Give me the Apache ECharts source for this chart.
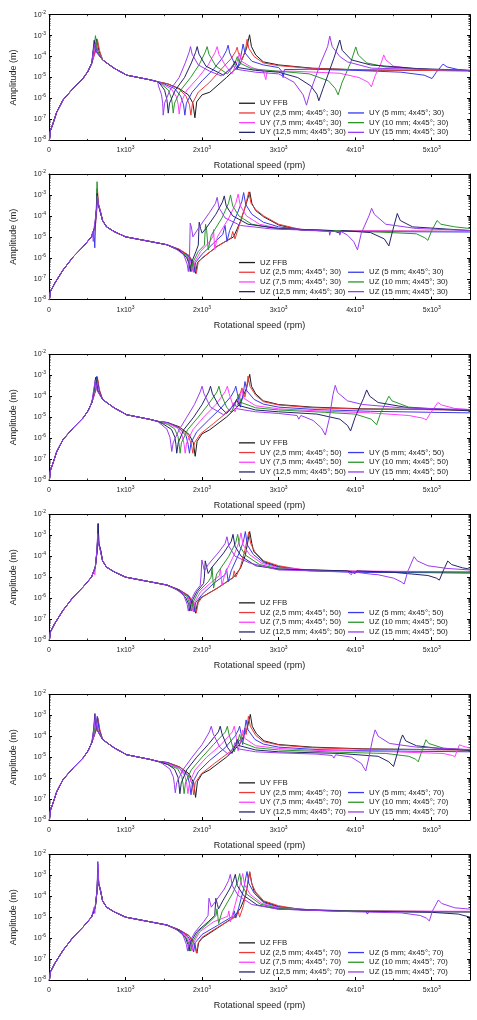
<!DOCTYPE html>
<html>
<head>
<meta charset="utf-8">
<script src="https://cdn.jsdelivr.net/npm/echarts/dist/echarts.min.js"></script>
<style>
  html, body { margin: 0; padding: 0; background: #fff; }
  #chart { width: 477px; height: 1020px; }
</style>
</head>
<body>
<div id="chart"></div>
<script>
// 系列名称与颜色
const sizes = ['FFB', '2,5 mm', '5 mm', '7,5 mm', '10 mm', '12,5 mm', '15 mm'];
const colors = ['#1c1c1c', '#ec3a3a', '#3a3aec', '#ff42ff', '#2a962a', '#24246c', '#9a3cf0'];
const panelDirs = ['UY', 'UZ', 'UY', 'UZ', 'UY', 'UZ'];
const panelAngles = [30, 30, 50, 50, 70, 70];
const speedRange = [0, 5500];
const ampRange = [1e-8, 1e-2];

// 低速段公共部分 (rpm, m)
const uyRise = [[5,1e-8],[20,3e-8],[50,6e-8],[100,2.2e-7],[183,8.5e-7],[314,3e-6],[444,9e-6],[510,2e-5],[560,5e-5]];
const uyFall = [[700,7e-5],[754,5e-5],[850,2.8e-5],[1015,1.3e-5],[1320,7.8e-6],[1420,6.3e-6]];
const uzRise = [[5,1e-8],[20,2.5e-8],[74,6e-8],[183,2.6e-7],[315,1.1e-6],[446,3.4e-6],[555,1e-5]];
const uzFall = [[700,6e-5],[752,3e-5],[850,1.8e-5],[1000,1e-5],[1320,6e-6],[1540,4.2e-6]];

// 每条曲线: [第一共振峰, 后段]
const uy30 = [
  [[[600,1.8e-4],[625,7e-4],[650,2e-4]],
   [[1550,5e-6],[1700,3e-6],[1820,1.5e-6],[1880,6e-7],[1906,1.2e-7],[1930,7e-7],[2000,1.5e-6],[2101,2e-6],[2318,1e-5],[2490,3.9e-5],[2580,2.4e-4],[2620,1.1e-3],[2645,3e-4],[2700,1.2e-4],[2800,5.6e-5],[3000,4e-5],[3440,2.8e-5],[4100,2.3e-5],[5500,2.1e-5]]],
  [[[610,1.8e-4],[635,6e-4],[660,2e-4]],
   [[1550,5e-6],[1700,2.8e-6],[1790,1.3e-6],[1835,5e-7],[1854,1.6e-7],[1875,6e-7],[1950,2e-6],[2100,6e-6],[2250,2.5e-5],[2380,8e-5],[2440,1.8e-4],[2458,2.8e-4],[2475,1.5e-4],[2520,7e-5],[2565,2e-4],[2588,6.7e-4],[2610,2.5e-4],[2680,1e-4],[2800,5e-5],[3000,3.7e-5],[3440,2.7e-5],[4100,2.3e-5],[5500,2.1e-5]]],
  [[[575,1.6e-4],[600,5e-4],[625,1.8e-4]],
   [[1500,5e-6],[1640,3e-6],[1720,1.3e-6],[1758,5e-7],[1775,1.6e-7],[1795,6e-7],[1870,2e-6],[2000,7e-6],[2150,2.5e-5],[2270,9e-5],[2320,2e-4],[2340,3.5e-4],[2360,1.5e-4],[2420,5e-5],[2460,2.5e-5],[2510,1.2e-4],[2536,4e-4],[2560,1.5e-4],[2650,6e-5],[2800,4e-5],[3000,3e-5],[3040,2e-5],[3059,1e-5],[3075,2.4e-5],[3400,2.5e-5],[4000,2.2e-5],[4600,1.8e-5],[4900,1.3e-5],[5004,9e-6],[5060,1.8e-5],[5148,4.4e-5],[5200,3.2e-5],[5350,2.4e-5],[5500,2.1e-5]]],
  [[[590,1.6e-4],[615,5e-4],[640,1.8e-4]],
   [[1500,4.5e-6],[1600,2.8e-6],[1665,1.2e-6],[1688,5e-7],[1701,1.8e-7],[1720,6e-7],[1800,2.5e-6],[1950,1e-5],[2080,4e-5],[2170,1.6e-4],[2197,3e-4],[2220,1.3e-4],[2300,4e-5],[2390,1.5e-5],[2460,6e-5],[2490,1.5e-4],[2515,6e-5],[2650,3e-5],[2800,2e-5],[2833,8e-6],[2850,2e-5],[3200,2e-5],[3800,1.6e-5],[4050,1e-5],[4170,6e-6],[4212,3.6e-6],[4260,1.2e-5],[4340,5e-5],[4373,1.2e-4],[4400,7e-5],[4500,3.5e-5],[4800,2.5e-5],[5500,2.1e-5]]],
  [[[582,1.8e-4],[607,1e-3],[632,2e-4]],
   [[1480,4.5e-6],[1560,2.5e-6],[1600,1e-6],[1612,5e-7],[1623,2e-7],[1640,6e-7],[1720,2.5e-6],[1850,1e-5],[1960,4e-5],[2040,1.6e-4],[2066,3e-4],[2090,1.3e-4],[2180,3.5e-5],[2330,1.5e-5],[2420,4e-5],[2460,1e-4],[2490,5e-5],[2650,2.6e-5],[3000,2e-5],[3400,1.5e-5],[3650,7e-6],[3740,3e-6],[3777,1.5e-6],[3830,6e-6],[3940,5e-5],[4008,2.9e-4],[4040,1.2e-4],[4150,5e-5],[4400,3.2e-5],[5000,2.4e-5],[5500,2.2e-5]]],
  [[[575,1.8e-4],[590,6e-4],[612,1.8e-4]],
   [[1450,5e-6],[1510,2.5e-6],[1540,9e-7],[1558,2e-7],[1575,6e-7],[1650,2.5e-6],[1770,1e-5],[1860,5e-5],[1915,1.6e-4],[1936,3e-4],[1960,1.3e-4],[2050,3.5e-5],[2280,1.3e-5],[2400,3.5e-5],[2430,6e-5],[2470,3e-5],[2700,2.2e-5],[3000,1.8e-5],[3250,1e-5],[3420,4e-6],[3500,1.6e-6],[3525,7.8e-7],[3580,3e-6],[3720,8e-5],[3799,6.2e-4],[3830,2e-4],[3950,7e-5],[4200,4e-5],[4800,2.7e-5],[5500,2.2e-5]]],
  [[[575,1.5e-4],[595,4e-4],[620,1.6e-4]],
   [[1430,4e-6],[1470,1.5e-6],[1485,6e-7],[1492,1.6e-7],[1510,6e-7],[1580,2.5e-6],[1700,1e-5],[1780,5e-5],[1830,1.6e-4],[1849,3e-4],[1870,1.3e-4],[1950,4e-5],[2100,2e-5],[2250,1.2e-5],[2370,2.5e-5],[2400,4e-5],[2440,2.5e-5],[2700,1.8e-5],[3000,1.5e-5],[3200,6e-6],[3320,1.5e-6],[3364,4.8e-7],[3410,2e-6],[3550,5e-5],[3640,3e-4],[3668,9.5e-4],[3700,3e-4],[3800,1e-4],[3900,5.6e-5],[4213,2.8e-5],[5500,2.2e-5]]]
];

const uz30 = [
  [[[600,3e-5],[620,2e-4],[630,2e-3],[640,4e-4],[664,2e-4]],
   [[1700,2.5e-6],[1820,1.3e-6],[1890,5e-7],[1915,1.8e-7],[1940,6e-7],[1975,8e-7],[2194,3.5e-6],[2412,1e-5],[2500,5.4e-5],[2565,2.8e-4],[2623,1.4e-3],[2650,4e-4],[2700,1.8e-4],[2805,9e-5],[3000,3.7e-5],[3286,2.1e-5],[3723,1.9e-5],[5500,1.8e-5]]],
  [[[605,3e-5],[625,2e-4],[635,1.5e-3],[645,4e-4],[668,2e-4]],
   [[1700,2.6e-6],[1830,1.3e-6],[1900,5e-7],[1925,1.8e-7],[1950,6e-7],[2000,1e-6],[2200,3.5e-6],[2380,9e-6],[2400,1.8e-5],[2430,8e-6],[2480,3e-5],[2560,2.5e-4],[2610,1.4e-3],[2640,4e-4],[2700,2e-4],[2805,1e-4],[3000,4e-5],[3300,2.2e-5],[3800,1.9e-5],[5500,1.8e-5]]],
  [[[585,2e-5],[598,3e-6],[608,4e-5],[618,2e-4],[625,1e-3],[635,4e-4],[660,2e-4]],
   [[1700,2.4e-6],[1820,1.2e-6],[1875,5e-7],[1895,2e-7],[1915,6e-7],[2000,1.5e-6],[2150,5e-6],[2270,1.3e-5],[2300,3.5e-5],[2325,6e-6],[2360,2e-5],[2460,1.3e-4],[2520,5e-4],[2543,1.3e-3],[2570,3.5e-4],[2650,1.2e-4],[2800,5e-5],[3000,3e-5],[3400,2e-5],[4000,1.8e-5],[5500,1.7e-5]]],
  [[[600,3e-5],[622,2e-4],[632,8e-4],[642,3.5e-4],[665,2e-4]],
   [[1700,2.3e-6],[1810,1.2e-6],[1860,5e-7],[1880,2.2e-7],[1900,6e-7],[1980,2e-6],[2100,6e-6],[2140,1e-5],[2150,2.2e-5],[2165,2.5e-6],[2200,1e-5],[2350,8e-5],[2440,4e-4],[2471,1.1e-3],[2500,3e-4],[2580,1e-4],[2750,4e-5],[3000,2.6e-5],[3600,2e-5],[5500,1.8e-5]]],
  [[[600,3e-5],[618,2e-4],[628,4.3e-3],[638,4e-4],[662,2e-4]],
   [[1700,2.2e-6],[1800,1.2e-6],[1842,5e-7],[1860,2.2e-7],[1880,6e-7],[1950,2e-6],[2030,4e-6],[2045,4e-5],[2060,2e-5],[2080,2.4e-6],[2120,1.2e-5],[2260,8e-5],[2345,4e-4],[2371,1e-3],[2400,3e-4],[2480,1e-4],[2650,4e-5],[3000,2.4e-5],[3700,2e-5],[4300,1.7e-5],[4800,1.4e-5],[4910,9e-6],[4950,6.8e-6],[5000,2e-5],[5070,6e-5],[5120,4e-5],[5300,3e-5],[5500,2.5e-5]]],
  [[[600,3e-5],[620,2e-4],[630,1.2e-3],[640,4e-4],[664,2e-4]],
   [[1700,2.3e-6],[1800,1e-6],[1830,5e-7],[1845,2.2e-7],[1862,6e-7],[1920,2e-6],[1950,4e-6],[1962,5e-5],[1980,2.5e-5],[2000,1.5e-5],[2050,2.5e-5],[2180,1.2e-4],[2265,4.5e-4],[2290,9e-4],[2315,3e-4],[2400,1e-4],[2600,4e-5],[3000,2.5e-5],[3700,2e-5],[3800,1.5e-5],[3820,2e-5],[4200,1.6e-5],[4380,8e-6],[4440,3.7e-6],[4490,2e-5],[4550,1.3e-4],[4590,6e-5],[4750,3e-5],[5500,2e-5]]],
  [[[570,1.8e-5],[578,6e-6],[590,3e-5],[622,2e-4],[633,9e-4],[643,4e-4],[666,2e-4]],
   [[1650,2.8e-6],[1760,1.4e-6],[1805,5e-7],[1820,2.2e-7],[1835,1e-6],[1845,4.5e-5],[1860,3e-5],[1880,1e-5],[1950,2.5e-5],[2100,1.5e-4],[2175,4e-4],[2197,7.7e-4],[2220,2.5e-4],[2300,8e-5],[2500,3.5e-5],[2900,2.4e-5],[3500,2e-5],[3660,1.8e-5],[3667,1.2e-5],[3680,1.8e-5],[3790,1.8e-5],[3800,1.2e-5],[3815,1.8e-5],[3900,1.2e-5],[3980,6e-6],[4030,2.4e-6],[4080,1.5e-5],[4180,1e-4],[4215,2.3e-4],[4250,1.2e-4],[4400,4e-5],[4800,2.5e-5],[5500,2e-5]]]
];

const uy50 = [
  [[[605,1.8e-4],[630,8e-4],[655,2e-4]],
   [[1550,5.5e-6],[1700,3.5e-6],[1830,1.5e-6],[1885,6e-7],[1910,1.35e-7],[1935,7e-7],[2000,1.6e-6],[2100,2.5e-6],[2318,1e-5],[2490,4e-5],[2580,2.4e-4],[2622,1.1e-3],[2645,3e-4],[2700,1.3e-4],[2800,6e-5],[3000,4e-5],[3440,3e-5],[4100,2.5e-5],[5500,2.2e-5]]],
  [[[610,1.8e-4],[635,7e-4],[660,2e-4]],
   [[1550,5.5e-6],[1720,3e-6],[1820,1.3e-6],[1860,5e-7],[1879,1.9e-7],[1900,6e-7],[1980,1.6e-6],[2150,5e-6],[2350,2e-5],[2460,7e-5],[2505,1.6e-4],[2520,2.5e-4],[2540,1.4e-4],[2560,9e-5],[2585,3e-4],[2600,9e-4],[2625,3e-4],[2700,1.1e-4],[2800,5.5e-5],[3000,3.8e-5],[3440,2.8e-5],[4100,2.4e-5],[5500,2.2e-5]]],
  [[[600,1.8e-4],[625,9e-4],[650,2e-4]],
   [[1550,5.5e-6],[1700,3e-6],[1790,1.3e-6],[1818,5e-7],[1835,1.9e-7],[1855,6e-7],[1930,2e-6],[2080,7e-6],[2250,2.8e-5],[2380,1e-4],[2425,2e-4],[2440,3e-4],[2460,1.4e-4],[2500,3e-5],[2540,1.5e-4],[2560,5e-4],[2585,1.8e-4],[2680,7e-5],[2800,4.2e-5],[3000,3e-5],[3500,2.3e-5],[4200,1.9e-5],[5000,1.7e-5],[5500,1.6e-5]]],
  [[[595,1.6e-4],[620,6e-4],[645,1.8e-4]],
   [[1550,5e-6],[1680,3e-6],[1740,1.3e-6],[1765,5e-7],[1779,1.9e-7],[1798,6e-7],[1880,2.5e-6],[2020,1e-5],[2180,4e-5],[2300,1.6e-4],[2330,3e-4],[2355,1.3e-4],[2430,1.8e-5],[2490,8e-5],[2520,2e-4],[2545,8e-5],[2700,3.5e-5],[3000,2.5e-5],[3500,2e-5],[4200,1.6e-5],[4700,1.2e-5],[4880,9e-6],[4930,7.5e-6],[4980,1.5e-5],[5080,5e-5],[5130,3.8e-5],[5300,2.6e-5],[5500,2.3e-5]]],
  [[[590,1.6e-4],[615,7e-4],[640,1.8e-4]],
   [[1550,4.5e-6],[1640,2.8e-6],[1685,1.2e-6],[1700,5e-7],[1713,1.9e-7],[1730,6e-7],[1810,2.5e-6],[1950,1e-5],[2080,4e-5],[2195,1.6e-4],[2220,3e-4],[2245,1.3e-4],[2320,3e-5],[2380,1.7e-5],[2450,6e-5],[2480,1.2e-4],[2510,5e-5],[2700,2.8e-5],[3000,2.2e-5],[3600,1.7e-5],[4000,1.4e-5],[4210,8e-6],[4280,4.3e-6],[4330,1.5e-5],[4410,6e-5],[4440,1e-4],[4480,6e-5],[4700,3e-5],[5200,2.3e-5],[5500,2.1e-5]]],
  [[[585,1.7e-4],[610,8e-4],[635,1.8e-4]],
   [[1500,4.5e-6],[1600,2.6e-6],[1645,1.1e-6],[1658,5e-7],[1669,1.9e-7],[1688,6e-7],[1760,2.5e-6],[1890,1e-5],[2000,4e-5],[2085,1.6e-4],[2110,3e-4],[2135,1.3e-4],[2220,3.5e-5],[2320,1.5e-5],[2420,4e-5],[2450,7e-5],[2490,3.5e-5],[2700,2.2e-5],[3000,1.8e-5],[3500,1.4e-5],[3800,8e-6],[3900,4e-6],[3940,2.2e-6],[4000,1e-5],[4110,8e-5],[4150,2e-4],[4190,1e-4],[4300,5e-5],[4700,2.8e-5],[5500,2e-5]]],
  [[[580,1.6e-4],[605,6e-4],[630,1.8e-4]],
   [[1450,5e-6],[1540,2.7e-6],[1580,1.1e-6],[1593,5e-7],[1604,2.3e-7],[1622,6e-7],[1700,2.5e-6],[1800,1e-5],[1900,4e-5],[1975,1.6e-4],[2000,3e-4],[2025,1.3e-4],[2110,3e-5],[2280,1.3e-5],[2390,3e-5],[2420,5e-5],[2460,2.5e-5],[2700,1.8e-5],[3000,1.5e-5],[3240,1.2e-5],[3264,8e-6],[3290,1.2e-5],[3450,7e-6],[3560,3e-6],[3610,1.4e-6],[3660,8e-6],[3710,1.2e-4],[3740,3.3e-4],[3770,1.5e-4],[3900,6e-5],[4100,4e-5],[4600,2.8e-5],[5500,2.3e-5]]]
];

const uz50 = [
  [[[605,3e-5],[628,2e-4],[640,1.2e-3],[650,4e-4],[672,2e-4]],
   [[1700,2.5e-6],[1820,1.3e-6],[1890,5e-7],[1915,1.9e-7],[1940,6e-7],[1975,1e-6],[2194,2.9e-6],[2412,1e-5],[2500,2.6e-5],[2565,1.1e-4],[2622,1.5e-3],[2650,4e-4],[2674,1.7e-4],[2805,5.5e-5],[3000,3.2e-5],[3286,2.2e-5],[4000,1.8e-5],[5500,1.6e-5]]],
  [[[605,3e-5],[628,2e-4],[640,1e-3],[650,4e-4],[672,2e-4]],
   [[1700,2.5e-6],[1830,1.3e-6],[1900,5e-7],[1925,2e-7],[1950,6e-7],[2000,1.1e-6],[2200,3e-6],[2400,9e-6],[2420,2e-5],[2440,1e-5],[2500,3e-5],[2560,2e-4],[2609,1.4e-3],[2635,4e-4],[2690,1.6e-4],[2805,6e-5],[3000,3.5e-5],[3300,2.3e-5],[4000,1.9e-5],[5500,1.7e-5]]],
  [[[605,3e-5],[630,2e-4],[642,3.7e-3],[652,4e-4],[674,2e-4]],
   [[1700,2.4e-6],[1820,1.2e-6],[1875,5e-7],[1895,2.2e-7],[1915,6e-7],[2000,1.5e-6],[2150,5e-6],[2300,1.3e-5],[2320,2.5e-5],[2340,6e-6],[2380,2e-5],[2480,1.3e-4],[2540,5e-4],[2565,1.5e-3],[2590,3.5e-4],[2670,1.2e-4],[2800,5e-5],[3000,3e-5],[3400,2e-5],[4000,1.7e-5],[5500,1.6e-5]]],
  [[[585,2e-5],[599,1.3e-5],[610,4e-5],[630,2e-4],[640,1e-3],[650,4e-4],[672,2e-4]],
   [[1700,2.3e-6],[1810,1.2e-6],[1860,5e-7],[1880,2.4e-7],[1900,6e-7],[1980,2e-6],[2150,7e-6],[2228,1.2e-5],[2240,2.5e-5],[2259,4e-6],[2300,1.5e-5],[2420,1.2e-4],[2485,5e-4],[2508,1.3e-3],[2535,3.5e-4],[2620,1.2e-4],[2780,4.5e-5],[3000,2.8e-5],[3600,2e-5],[5500,1.8e-5]]],
  [[[605,3e-5],[628,2e-4],[638,1.5e-3],[648,4e-4],[670,2e-4]],
   [[1700,2.2e-6],[1800,1.2e-6],[1842,5e-7],[1860,2.4e-7],[1880,6e-7],[1950,2e-6],[2080,6e-6],[2118,1e-5],[2130,3e-5],[2150,3e-6],[2190,1.4e-5],[2350,1e-4],[2440,4.5e-4],[2465,1.1e-3],[2490,3e-4],[2570,1.1e-4],[2750,4e-5],[3000,2.5e-5],[3800,1.9e-5],[5500,1.7e-5]]],
  [[[605,3e-5],[630,2e-4],[642,3.5e-3],[652,4e-4],[674,2e-4]],
   [[1700,2.3e-6],[1790,1e-6],[1825,5e-7],[1840,2.4e-7],[1858,6e-7],[1930,2e-6],[2020,5e-6],[2030,1e-5],[2041,6e-5],[2060,3e-5],[2080,1.5e-5],[2130,3e-5],[2280,1.4e-4],[2380,5e-4],[2404,1.1e-3],[2430,3e-4],[2510,1e-4],[2700,3.5e-5],[3000,2.4e-5],[3900,2e-5],[4000,1.5e-5],[4020,2e-5],[4500,1.7e-5],[4950,1.2e-5],[5060,9e-6],[5100,7.2e-6],[5150,2e-5],[5209,5.9e-5],[5260,4e-5],[5400,2.8e-5],[5500,2.4e-5]]],
  [[[605,3e-5],[626,2e-4],[636,1.2e-3],[646,4e-4],[668,2e-4]],
   [[1650,2.8e-6],[1760,1.4e-6],[1805,5e-7],[1820,2.4e-7],[1840,6e-7],[1910,2e-6],[1975,4e-6],[1985,1e-5],[1997,6.6e-5],[2015,3.5e-5],[2030,2e-5],[2080,4e-5],[2220,1.6e-4],[2300,4e-4],[2325,8.5e-4],[2350,3e-4],[2430,1e-4],[2630,4.6e-5],[3000,2.2e-5],[3900,1.8e-5],[3950,1.3e-5],[3970,1.8e-5],[4200,1.4e-5],[4300,1.3e-5],[4500,9e-6],[4600,6e-6],[4640,4.7e-6],[4690,2e-5],[4770,9.5e-5],[4810,6e-5],[4950,3.5e-5],[5200,2.6e-5],[5500,2.2e-5]]]
];

const uy70 = [
  [[[610,1.8e-4],[635,8e-4],[660,2e-4]],
   [[1550,5.5e-6],[1700,3.5e-6],[1830,1.6e-6],[1890,6e-7],[1915,1.2e-7],[1940,7e-7],[2000,1.6e-6],[2100,2.5e-6],[2318,1e-5],[2490,4e-5],[2590,2.4e-4],[2630,1.1e-3],[2655,3e-4],[2710,1.3e-4],[2810,6e-5],[3000,4e-5],[3440,3e-5],[4100,2.5e-5],[5500,2.2e-5]]],
  [[[615,1.8e-4],[640,7e-4],[665,2e-4]],
   [[1550,5.5e-6],[1720,3.2e-6],[1830,1.3e-6],[1872,5e-7],[1890,1.6e-7],[1910,6e-7],[1990,1.6e-6],[2160,5e-6],[2380,2e-5],[2500,7e-5],[2545,1.6e-4],[2560,2.5e-4],[2575,1.2e-4],[2590,3e-4],[2605,9e-4],[2630,3e-4],[2700,1.1e-4],[2800,5.5e-5],[3000,3.8e-5],[3440,2.8e-5],[4100,2.4e-5],[5500,2.2e-5]]],
  [[[605,1.8e-4],[630,9e-4],[655,2e-4]],
   [[1550,5.5e-6],[1700,3e-6],[1810,1.3e-6],[1838,5e-7],[1855,1.6e-7],[1875,6e-7],[1950,2e-6],[2100,7e-6],[2300,2.8e-5],[2430,1e-4],[2475,2e-4],[2490,3e-4],[2510,1.3e-4],[2530,4e-5],[2555,1.8e-4],[2575,6e-4],[2600,2e-4],[2690,7e-5],[2800,4.2e-5],[3000,3e-5],[3500,2.3e-5],[4200,2e-5],[5500,1.8e-5]]],
  [[[595,1.6e-4],[620,5e-4],[645,1.8e-4]],
   [[1550,5e-6],[1700,3e-6],[1775,1.3e-6],[1800,5e-7],[1815,1.8e-7],[1835,6e-7],[1910,2.5e-6],[2060,1e-5],[2250,4e-5],[2395,1.6e-4],[2420,3e-4],[2440,1.3e-4],[2470,2e-5],[2510,8e-5],[2530,2e-4],[2555,8e-5],[2700,3.5e-5],[3000,2.6e-5],[3500,2.1e-5],[4500,1.8e-5],[5150,1.5e-5],[5270,1.2e-5],[5305,1.07e-5],[5330,2e-5],[5362,3.9e-5],[5400,3.4e-5],[5500,2.7e-5]]],
  [[[590,1.6e-4],[615,6e-4],[640,1.8e-4]],
   [[1550,4.5e-6],[1680,2.8e-6],[1735,1.2e-6],[1752,5e-7],[1765,1.8e-7],[1783,6e-7],[1860,2.5e-6],[2000,1e-5],[2150,4e-5],[2305,1.6e-4],[2330,3e-4],[2350,1.3e-4],[2420,1.8e-5],[2470,6e-5],[2490,1.2e-4],[2520,5e-5],[2700,2.8e-5],[3000,2.2e-5],[3800,1.7e-5],[4400,1.5e-5],[4700,1.1e-5],[4790,8e-6],[4824,6e-6],[4860,1.5e-5],[4925,6.8e-5],[4960,4.5e-5],[5150,2.7e-5],[5500,2.2e-5]]],
  [[[580,1.8e-4],[600,1.2e-3],[625,2e-4]],
   [[1550,4.5e-6],[1640,2.7e-6],[1685,1.1e-6],[1698,5e-7],[1710,1.8e-7],[1728,6e-7],[1800,2.5e-6],[1930,1e-5],[2080,4e-5],[2212,1.6e-4],[2237,3e-4],[2260,1.3e-4],[2330,3e-5],[2390,1.5e-5],[2440,4e-5],[2460,7e-5],[2490,3.5e-5],[2700,2.2e-5],[3000,1.8e-5],[3800,1.5e-5],[4300,1.1e-5],[4440,6e-6],[4501,3.6e-6],[4550,1.5e-5],[4590,6e-5],[4619,1.15e-4],[4660,6e-5],[4800,3.5e-5],[5100,2.6e-5],[5500,2.1e-5]]],
  [[[582,1.7e-4],[605,1e-3],[630,1.9e-4]],
   [[1480,5e-6],[1580,2.7e-6],[1625,1.1e-6],[1638,5e-7],[1650,2e-7],[1668,6e-7],[1750,2.5e-6],[1870,1e-5],[2000,4e-5],[2095,1.6e-4],[2120,3e-4],[2145,1.3e-4],[2230,3e-5],[2350,1.3e-5],[2410,3e-5],[2430,5e-5],[2470,2.5e-5],[2700,1.8e-5],[3000,1.6e-5],[3500,1.4e-5],[3700,1.2e-5],[3723,9e-6],[3745,1.3e-5],[3950,1e-5],[4080,5e-6],[4138,2.2e-6],[4180,1e-5],[4230,8e-5],[4261,2e-4],[4300,1e-4],[4450,4.5e-5],[4800,3e-5],[5500,2.3e-5]]]
];

const uz70 = [
  [[[605,3e-5],[630,2e-4],[640,1.5e-3],[650,4e-4],[672,2e-4]],
   [[1700,2.5e-6],[1830,1.3e-6],[1905,5e-7],[1932,1.9e-7],[1955,6e-7],[2000,1e-6],[2200,3e-6],[2412,1e-5],[2500,2.6e-5],[2570,1.1e-4],[2622,1.4e-3],[2650,4e-4],[2680,1.7e-4],[2805,5.5e-5],[3000,3.2e-5],[3300,2.2e-5],[4000,1.9e-5],[5500,1.8e-5]]],
  [[[605,3e-5],[630,2e-4],[642,1e-3],[652,4e-4],[674,2e-4]],
   [[1700,2.5e-6],[1830,1.3e-6],[1900,5e-7],[1925,2e-7],[1950,6e-7],[2000,1.1e-6],[2200,3.2e-6],[2450,1.1e-5],[2470,2e-5],[2490,1e-5],[2540,3.5e-5],[2580,2e-4],[2622,1.5e-3],[2648,4e-4],[2700,1.6e-4],[2805,6e-5],[3000,3.5e-5],[3300,2.3e-5],[4000,2e-5],[5500,1.8e-5]]],
  [[[605,3e-5],[628,2e-4],[638,4.5e-3],[648,4e-4],[670,2e-4]],
   [[1700,2.4e-6],[1815,1.2e-6],[1870,5e-7],[1890,2.2e-7],[1910,6e-7],[2000,1.5e-6],[2200,4e-6],[2400,1.1e-5],[2420,2e-5],[2440,9e-6],[2480,3e-5],[2540,2e-4],[2587,1.5e-3],[2612,4e-4],[2680,1.4e-4],[2800,5e-5],[3000,3e-5],[3500,2.1e-5],[4140,1.9e-5],[4160,1.4e-5],[4180,1.9e-5],[5000,1.8e-5],[5500,1.8e-5]]],
  [[[605,3e-5],[626,2e-4],[636,1e-3],[646,4e-4],[668,2e-4]],
   [[1700,2.3e-6],[1800,1.2e-6],[1850,5e-7],[1870,2.4e-7],[1890,6e-7],[1970,2e-6],[2150,6e-6],[2335,1.1e-5],[2350,2e-5],[2369,6e-6],[2410,2e-5],[2480,1.8e-4],[2530,1.2e-3],[2555,3.5e-4],[2630,1.2e-4],[2780,4.5e-5],[3000,2.8e-5],[3600,2e-5],[5500,1.9e-5]]],
  [[[605,3e-5],[628,2e-4],[638,1.5e-3],[648,4e-4],[670,2e-4]],
   [[1700,2.2e-6],[1790,1.1e-6],[1832,5e-7],[1850,2.4e-7],[1870,6e-7],[1950,2e-6],[2100,6e-6],[2182,1.2e-5],[2195,2.5e-5],[2216,5e-6],[2260,1.8e-5],[2400,1.4e-4],[2466,5e-4],[2491,1.2e-3],[2516,3.5e-4],[2590,1.2e-4],[2760,4.2e-5],[3000,2.6e-5],[3800,2e-5],[5500,1.8e-5]]],
  [[[605,3e-5],[629,2e-4],[639,2e-3],[649,4e-4],[671,2e-4]],
   [[1700,2.3e-6],[1785,1e-6],[1815,5e-7],[1830,2.4e-7],[1848,6e-7],[1930,2e-6],[2080,6e-6],[2165,1.2e-5],[2180,8e-5],[2200,4e-5],[2215,2.5e-5],[2270,6e-5],[2360,2.2e-4],[2410,5.5e-4],[2434,1.1e-3],[2460,3.2e-4],[2540,1.1e-4],[2720,3.8e-5],[3000,2.4e-5],[4000,1.9e-5],[5000,1.7e-5],[5350,1.4e-5],[5500,1e-5]]],
  [[[590,3e-5],[598,1.5e-5],[606,4e-5],[630,2e-4],[640,3.5e-3],[650,4e-4],[672,2e-4]],
   [[1650,2.8e-6],[1750,1.4e-6],[1795,5e-7],[1810,2.4e-7],[1830,6e-7],[1910,2e-6],[2020,6e-6],[2078,1.2e-5],[2090,8e-5],[2105,5e-5],[2120,3e-5],[2180,6e-5],[2290,2.2e-4],[2345,5.5e-4],[2369,1.1e-3],[2395,3.2e-4],[2470,1.1e-4],[2650,4e-5],[3000,2.4e-5],[4000,1.8e-5],[4600,1.6e-5],[4850,1.2e-5],[4930,9e-6],[4969,6.6e-6],[5010,2e-5],[5087,6.6e-5],[5130,4.5e-5],[5300,2.8e-5],[5500,2.4e-5]]]
];

const panelCurves = [uy30, uz30, uy50, uz50, uy70, uz70];

// 布局
const gridTops = [14.7, 174, 354.3, 514.3, 694.3, 854.3];
const gridLeft = 49, gridWidth = 421, gridHeight = 125.7;
const rowH = 9.7;
const font = 'Liberation Sans, Arial, sans-serif';

const myChart = echarts.init(document.getElementById('chart'), null, { renderer: 'canvas' });

const option = {
    animation: false,
    backgroundColor: '#fff',
    grid: [], xAxis: [], yAxis: [], legend: [], series: []
};

const tickStyle = { show: true, inside: true, length: 3, lineStyle: { color: '#000', width: 1 } };
const minorStyle = { show: true, length: 1.5, lineStyle: { color: '#000', width: 0.8 } };
const lineStyle = { show: true, onZero: false, lineStyle: { color: '#000', width: 1 } };

panelCurves.forEach(function (curves, p) {
    const top = gridTops[p];
    const dir = panelDirs[p];
    const names = sizes.map(function (s, k) {
        return k === 0 ? dir + ' FFB' : dir + ' (' + s + '; 4x45°; ' + panelAngles[p] + ')';
    });

    option.grid.push({ left: gridLeft, top: top, width: gridWidth, height: gridHeight });

    // 底部 x 轴
    option.xAxis.push({
        type: 'value', gridIndex: p, position: 'bottom',
        min: speedRange[0], max: speedRange[1], interval: 1000,
        axisLine: lineStyle, axisTick: tickStyle,
        minorTick: Object.assign({ splitNumber: 2 }, minorStyle),
        splitLine: { show: false },
        axisLabel: {
            fontSize: 7, color: '#222', fontFamily: font, margin: 5, lineHeight: 10,
            showMaxLabel: false,
            formatter: function (v) { return v === 0 ? '0' : (v / 1000) + 'x10{s|3}'; },
            rich: { s: { fontSize: 5, verticalAlign: 'top', lineHeight: 5, fontFamily: font, color: '#222' } }
        },
        name: 'Rotational speed (rpm)', nameLocation: 'middle', nameGap: 21,
        nameTextStyle: { fontSize: 9, color: '#222', fontFamily: font }
    });
    // 顶部 x 轴 (仅刻度)
    option.xAxis.push({
        type: 'value', gridIndex: p, position: 'top',
        min: speedRange[0], max: speedRange[1], interval: 1000,
        axisLine: lineStyle, axisTick: tickStyle,
        minorTick: Object.assign({ splitNumber: 2 }, minorStyle),
        splitLine: { show: false }, axisLabel: { show: false }
    });

    // 左侧对数 y 轴
    option.yAxis.push({
        type: 'log', logBase: 10, gridIndex: p, position: 'left',
        min: ampRange[0], max: ampRange[1],
        axisLine: lineStyle, axisTick: tickStyle,
        minorTick: Object.assign({ splitNumber: 9 }, minorStyle),
        splitLine: { show: false },
        axisLabel: {
            fontSize: 7, color: '#222', fontFamily: font, margin: 3, lineHeight: 10,
            formatter: function (v) { return '10{s|' + Math.round(Math.log10(v)) + '}'; },
            rich: { s: { fontSize: 5, verticalAlign: 'top', lineHeight: 5, fontFamily: font, color: '#222' } }
        },
        name: 'Amplitude (m)', nameLocation: 'middle', nameGap: 31,
        nameTextStyle: { fontSize: 9, color: '#222', fontFamily: font }
    });
    // 右侧 y 轴 (仅刻度)
    option.yAxis.push({
        type: 'log', logBase: 10, gridIndex: p, position: 'right',
        min: ampRange[0], max: ampRange[1],
        axisLine: lineStyle, axisTick: tickStyle,
        minorTick: Object.assign({ splitNumber: 9 }, minorStyle),
        splitLine: { show: false }, axisLabel: { show: false }
    });

    // 图例: 左列 FFB/2,5/7,5/12,5, 右列 5/10/15 (图标为细线)
    const legendTop = top + gridHeight - 7.7 - 3 * rowH - rowH / 2;
    const legendBase = {
        orient: 'vertical', padding: 0, itemGap: rowH - 9, itemWidth: 16, itemHeight: 1.3,
        icon: 'rect', selectedMode: false,
        textStyle: { fontSize: 7.8, color: '#222', fontFamily: font, lineHeight: 9 }
    };
    option.legend.push(Object.assign({}, legendBase, {
        left: 239, top: legendTop, data: [names[0], names[1], names[3], names[5]]
    }));
    option.legend.push(Object.assign({}, legendBase, {
        left: 348, top: legendTop + rowH, data: [names[2], names[4], names[6]]
    }));

    const rise = dir === 'UY' ? uyRise : uzRise;
    const fall = dir === 'UY' ? uyFall : uzFall;
    curves.forEach(function (c, k) {
        option.series.push({
            type: 'line', name: names[k],
            xAxisIndex: 2 * p, yAxisIndex: 2 * p,
            data: rise.concat(c[0], fall, c[1]),
            symbol: 'none', showSymbol: false,
            lineStyle: { width: 1, color: colors[k] },
            itemStyle: { color: colors[k] },
            emphasis: { disabled: true }
        });
    });
});

myChart.setOption(option);
</script>
</body>
</html>
